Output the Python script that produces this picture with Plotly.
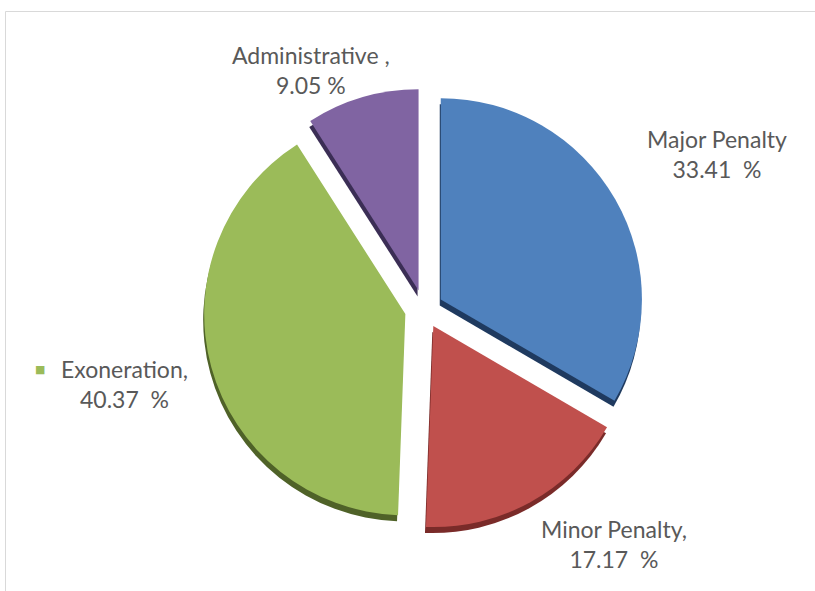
import plotly.graph_objects as go

# Disciplinary outcome shares (percent), clockwise from 12 o'clock
categories = ["Major Penalty", "Minor Penalty", "Exoneration", "Administrative"]
shares = [33.41, 17.17, 40.37, 9.05]
label_names = ["Major Penalty", "Minor Penalty,", "Exoneration,", "Administrative ,"]
pct_gap = ["\u00a0 ", "\u00a0 ", "\u00a0 ", " "]

face_colors = ["#4F81BD", "#C0504D", "#9BBB59", "#8064A2"]
edge_colors = ["#1F3A5F", "#7A2B29", "#4F6228", "#3B2E55"]

W, H = 815, 591
pull = [0.096] * 4


def px(x):
    return x / W


def py(y):
    return 1 - y / H


# pie box in pixels
cx, cy, box = 424, 309, 441
dom_x = [px(cx - box / 2), px(cx + box / 2)]
dom_y = [py(cy + box / 2), py(cy - box / 2)]

fig = go.Figure()

# darker copy slightly lower to give the slices a bevelled edge
depth = 6
fig.add_trace(go.Pie(
    labels=categories, values=shares, sort=False, direction="clockwise",
    rotation=0, pull=pull, textinfo="none", hoverinfo="skip",
    marker=dict(colors=edge_colors, line=dict(width=0)),
    domain=dict(x=[dom_x[0] - 1 / W, dom_x[1] - 1 / W],
                y=[dom_y[0] - depth / H, dom_y[1] - depth / H]),
    showlegend=False,
))

fig.add_trace(go.Pie(
    labels=categories, values=shares, sort=False, direction="clockwise",
    rotation=0, pull=pull, textinfo="none",
    marker=dict(colors=face_colors, line=dict(width=0)),
    domain=dict(x=dom_x, y=dom_y),
    showlegend=False,
))

# outside data labels
label_font = dict(family="Lato, Carlito, sans-serif", size=23, color="#595959")
label_pos = [(717, 154), (614, 544), (124, 384), (311, 70)]
annotations = []
for i, (name, val) in enumerate(zip(label_names, shares)):
    x, y = label_pos[i]
    annotations.append(dict(
        x=px(x), y=py(y), xref="paper", yref="paper",
        text=f"{name}<br>{val:.2f}{pct_gap[i]}%",
        showarrow=False, align="center", xanchor="center", yanchor="middle",
        font=label_font,
    ))

# legend key beside the Exoneration label
key_idx = categories.index("Exoneration")
annotations.append(dict(
    x=px(40), y=py(369), xref="paper", yref="paper", text="■",
    showarrow=False, xanchor="center", yanchor="middle",
    font=dict(family="DejaVu Sans", size=11, color=face_colors[key_idx]),
))

fig.update_layout(
    width=W, height=H,
    margin=dict(l=0, r=0, t=0, b=0),
    paper_bgcolor="white", plot_bgcolor="white",
    annotations=annotations,
    shapes=[dict(type="rect", xref="paper", yref="paper",
                 x0=px(5.5), x1=px(W + 5), y0=py(H + 5), y1=py(11.5),
                 line=dict(color="#D9D9D9", width=1), fillcolor="rgba(0,0,0,0)")],
)

fig.write_html("out.html")
